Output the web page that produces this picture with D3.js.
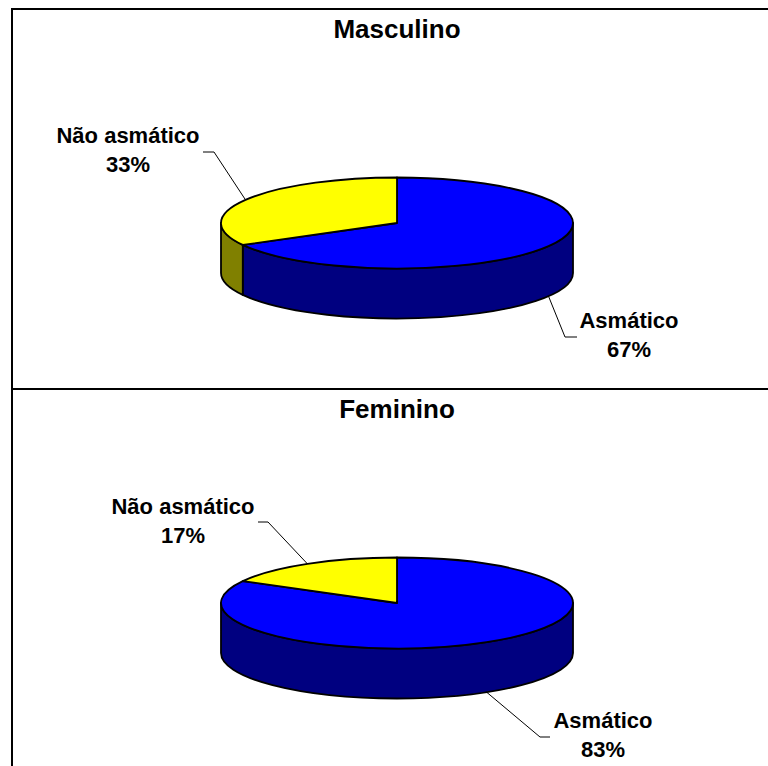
<!DOCTYPE html>
<html>
<head>
<meta charset="utf-8">
<script src="https://cdn.jsdelivr.net/npm/d3@7"></script>
<style>
  html, body { margin: 0; padding: 0; background: #fff; }
  svg { display: block; }
  text { font-family: "Liberation Sans", Arial, sans-serif; font-weight: bold; fill: #000; }
</style>
</head>
<body>
<svg id="chart" width="768" height="766"></svg>
<script>
// Asthma share by sex, one 3D pie per panel
const panelTitles = ["Masculino", "Feminino"];
const categories = ["Asmático", "Não asmático"];
const masculinoValues = [67, 33];
const femininoValues = [83, 17];
const seriesValues = [masculinoValues, femininoValues];

const topColors = ["#0000FF", "#FFFF00"];
const sideColors = ["#000080", "#808000"];

const svg = d3.select("#chart");
const W = 768;

// panel frame geometry
const frameLeft = 12, frameTop = 9, panelH = 380;
const cx = 397, rx = 176, ry = 45.5, depth = 50;
const pieOffset = 214;

// label placement per panel: [asmatico, nao asmatico]
const labelSpots = [
  [{ x: 629, y: 328, elbow: [565, 337], tick: [577, 337] },
   { x: 128, y: 143, elbow: [214, 152], tick: [203, 152] }],
  [{ x: 603, y: 728 - 380, elbow: [540, 737 - 380], tick: [550, 737 - 380] },
   { x: 183, y: 514 - 380, elbow: [268, 522 - 380], tick: [258, 522 - 380] }]
];

const pct = d3.format(".0%");
const pie = d3.pie().sort(null).value(d => d).startAngle(0).endAngle(2 * Math.PI);

// frame
svg.append("rect")
  .attr("x", frameLeft).attr("y", frameTop)
  .attr("width", W + 20 - frameLeft).attr("height", 800)
  .attr("fill", "none").attr("stroke", "#000").attr("stroke-width", 2);
svg.append("line")
  .attr("x1", frameLeft).attr("x2", W + 10)
  .attr("y1", frameTop + panelH).attr("y2", frameTop + panelH)
  .attr("stroke", "#000").attr("stroke-width", 2);

seriesValues.forEach((vals, pi) => {
  const y0 = frameTop + pi * panelH;
  const cy = y0 + pieOffset;
  const g = svg.append("g");
  const total = d3.sum(vals);
  const arcs = pie(vals);

  const P = (a, dy) => [cx + rx * Math.sin(a), cy - ry * Math.cos(a) + (dy || 0)];
  const arcTo = (a1, a2, dy, sweep) => {
    const p = P(sweep ? a2 : a1, dy);
    const large = Math.abs(a2 - a1) > Math.PI ? 1 : 0;
    return `A${rx},${ry} 0 ${large} ${sweep} ${p[0]},${p[1]}`;
  };

  // side walls, only the front half (between 90° and 270°) shows
  const frontA = Math.PI / 2, frontB = 3 * Math.PI / 2;
  arcs.forEach((d, i) => {
    const s1 = Math.max(d.startAngle, frontA);
    const s2 = Math.min(d.endAngle, frontB);
    if (s2 <= s1) return;
    const a = P(s1, 0), b = P(s2, depth);
    const path = `M${a[0]},${a[1]} ${arcTo(s1, s2, 0, 1)} L${b[0]},${b[1]} ${arcTo(s1, s2, depth, 0)} Z`;
    g.append("path").attr("d", path)
      .attr("fill", sideColors[i]).attr("stroke", "#000")
      .attr("stroke-width", 1.8).attr("stroke-linejoin", "round");
  });

  // top faces
  arcs.forEach((d, i) => {
    const a = P(d.startAngle, 0);
    const path = `M${cx},${cy} L${a[0]},${a[1]} ${arcTo(d.startAngle, d.endAngle, 0, 1)} Z`;
    g.append("path").attr("d", path)
      .attr("fill", topColors[i]).attr("stroke", "#000")
      .attr("stroke-width", 1.8).attr("stroke-linejoin", "round");
  });

  // title
  g.append("text")
    .attr("x", cx).attr("y", y0 + 29)
    .attr("text-anchor", "middle").attr("font-size", 26)
    .text(panelTitles[pi]);

  // labels with leader lines to the slice mid-angle
  arcs.forEach((d, i) => {
    const spot = labelSpots[pi][i];
    const mid = (d.startAngle + d.endAngle) / 2;
    const onFront = Math.cos(mid) < 0;
    const anchor = P(mid, onFront ? depth : 0);
    const yOff = pi * panelH;
    g.append("polyline")
      .attr("points", [anchor, [spot.elbow[0], spot.elbow[1] + yOff], [spot.tick[0], spot.tick[1] + yOff]].map(p => p.join(",")).join(" "))
      .attr("fill", "none").attr("stroke", "#000").attr("stroke-width", 1);
    const t = g.append("text")
      .attr("text-anchor", "middle").attr("font-size", 22);
    t.append("tspan").attr("x", spot.x).attr("y", spot.y + yOff).text(categories[i]);
    t.append("tspan").attr("x", spot.x).attr("y", spot.y + yOff + 29).text(pct(vals[i] / total));
  });
});
</script>
</body>
</html>
